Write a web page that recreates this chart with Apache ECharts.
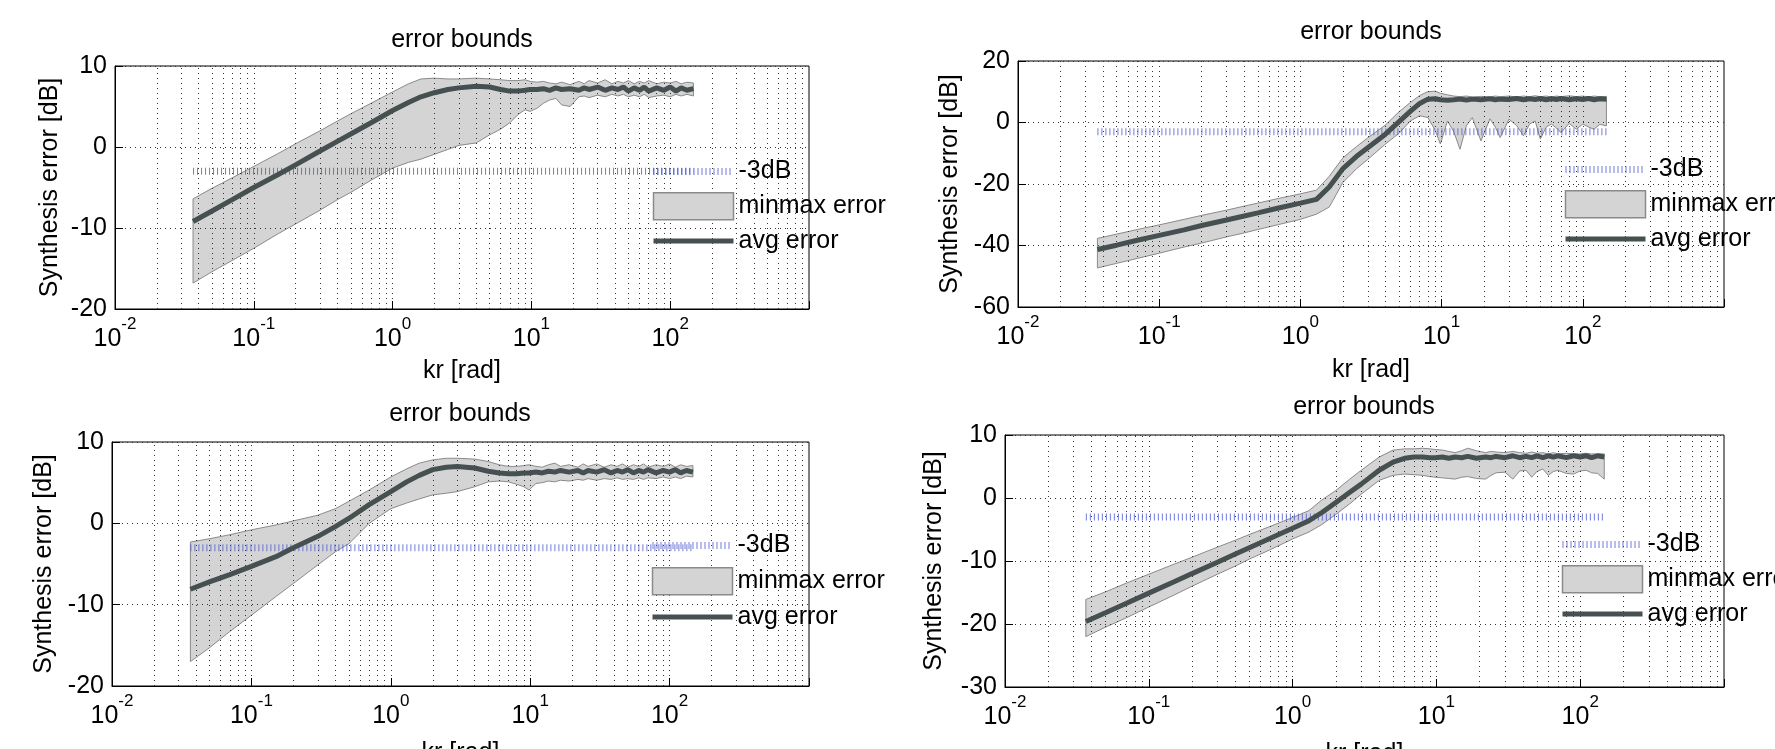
<!DOCTYPE html>
<html>
<head>
<meta charset="utf-8">
<title>error bounds</title>
<script src="https://cdn.jsdelivr.net/npm/echarts@6/dist/echarts.min.js"></script>
<style>
  html, body { margin: 0; padding: 0; background: #fff; }
  #chart { width: 1775px; height: 749px; }
</style>
</head>
<body>
<div id="chart"></div>
<script>
// kr sample points, shared by the four panels
const krRad = [0.0365, 0.05, 0.07, 0.1, 0.15, 0.2, 0.3, 0.4, 0.5, 0.7, 1, 1.3, 1.6, 2, 2.5, 3, 4, 5, 6, 7, 8, 9, 9.8, 11, 12.2, 13.5, 15, 16.5, 19, 22, 24, 26, 30, 34, 38, 42, 46, 50, 55, 60, 65, 70, 80, 90, 100, 110, 120, 132, 147]

// panel A (top left)
const avgA = [-9.2, -7.9, -6.5, -5.0, -3.4, -2.2, -0.5, 0.7, 1.6, 3.0, 4.5, 5.5, 6.2, 6.7, 7.1, 7.3, 7.5, 7.4, 7.1, 6.9, 6.9, 7.0, 7.1, 7.1, 7.2, 7.0, 7.3, 7.1, 7.2, 7.0, 7.3, 7.1, 7.4, 7.0, 7.3, 7.1, 7.4, 6.9, 7.3, 7.0, 7.4, 6.9, 7.3, 7.0, 7.4, 6.9, 7.3, 7.0, 7.2]
const maxA = [-6.4, -5.1, -3.8, -2.4, -0.8, 0.4, 2.0, 3.2, 4.1, 5.4, 6.8, 7.8, 8.4, 8.5, 8.4, 8.4, 8.5, 8.4, 8.3, 8.2, 8.2, 8.3, 8.1, 8.0, 8.1, 7.9, 7.8, 8.0, 7.7, 8.1, 7.8, 8.2, 7.9, 8.3, 7.8, 8.1, 7.9, 8.2, 7.8, 8.1, 7.9, 8.2, 7.8, 8.0, 7.9, 8.1, 7.8, 8.0, 7.9]
const minA = [-16.8, -15.4, -14.0, -12.5, -10.7, -9.5, -7.8, -6.5, -5.6, -4.1, -2.6, -1.9, -1.5, -0.9, -0.3, 0.2, 0.5, 1.5, 2.2, 3.0, 4.0, 4.6, 4.4, 4.8, 5.4, 5.8, 6.0, 5.2, 5.0, 6.2, 6.3, 6.1, 6.4, 6.2, 6.5, 6.3, 6.5, 6.2, 6.4, 6.2, 6.5, 6.1, 6.3, 6.4, 6.2, 6.5, 6.3, 6.5, 6.3]

// panel B (top right)
const avgB = [-41.3, -39.9, -38.3, -36.7, -34.9, -33.5, -31.7, -30.4, -29.4, -27.8, -26.2, -25.0, -21.0, -15.0, -11.0, -8.2, -3.8, 0.3, 3.6, 6.2, 7.6, 7.7, 7.4, 7.2, 7.4, 7.6, 7.3, 7.6, 7.4, 7.7, 7.4, 7.6, 7.5, 7.8, 7.4, 7.7, 7.5, 7.8, 7.4, 7.7, 7.5, 7.8, 7.4, 7.7, 7.5, 7.8, 7.4, 7.7, 7.6]
const maxB = [-37.7, -36.3, -34.8, -33.3, -31.5, -30.2, -28.5, -27.2, -26.2, -24.7, -23.2, -22.0, -17.5, -11.5, -7.8, -5.0, -0.8, 3.5, 6.5, 8.8, 10.0, 10.2, 9.5, 9.0, 8.6, 8.4, 8.6, 8.3, 8.5, 8.3, 8.6, 8.4, 8.6, 8.3, 8.6, 8.4, 8.7, 8.4, 8.6, 8.3, 8.6, 8.4, 8.7, 8.4, 8.6, 8.3, 8.6, 8.4, 8.5]
const minB = [-47.3, -45.8, -44.2, -42.5, -40.5, -39.2, -37.2, -35.9, -34.8, -33.2, -31.5, -29.8, -27.5, -19.5, -15.0, -12.0, -7.0, -3.5, 0.5, 2.2, 1.6, -2.5, -7.0, 0.5, -3.0, -8.7, -1.0, 1.6, -6.0, 1.2, -1.5, -4.9, 1.1, -1.0, -4.3, -0.5, 0.5, -5.4, -1.5, -0.5, -1.8, -3.3, -0.3, -2.2, -0.5, -1.5, -2.2, -0.6, -1.1]

// panel C (bottom left)
const avgC = [-8.1, -7.2, -6.3, -5.3, -4.1, -3.0, -1.6, -0.4, 0.6, 2.3, 3.9, 5.1, 5.9, 6.6, 6.9, 7.0, 6.8, 6.4, 6.2, 6.1, 6.1, 6.2, 6.2, 6.3, 6.2, 6.4, 6.3, 6.5, 6.3, 6.5, 6.2, 6.5, 6.3, 6.6, 6.2, 6.5, 6.3, 6.6, 6.2, 6.5, 6.3, 6.6, 6.2, 6.5, 6.3, 6.6, 6.2, 6.5, 6.3]
const maxC = [-2.3, -1.9, -1.4, -0.8, -0.2, 0.3, 1.0, 1.8, 2.7, 4.1, 5.7, 6.7, 7.4, 7.8, 8.0, 8.0, 7.9, 7.6, 7.2, 7.0, 7.0, 7.1, 7.2, 7.0, 6.9, 7.2, 7.4, 7.0, 7.2, 6.9, 7.3, 7.0, 7.3, 6.9, 7.2, 7.0, 7.3, 6.9, 7.2, 7.0, 7.3, 6.9, 7.2, 7.0, 7.3, 6.9, 7.2, 7.0, 7.1]
const minC = [-17.0, -15.3, -13.3, -11.3, -9.0, -7.4, -5.1, -3.5, -2.5, 0.0, 1.8, 2.5, 3.0, 3.5, 3.7, 3.9, 4.5, 5.1, 5.2, 5.1, 4.8, 4.5, 4.1, 4.9, 5.0, 5.2, 5.1, 5.3, 5.2, 5.4, 5.3, 5.5, 5.3, 5.5, 5.4, 5.6, 5.4, 5.5, 5.4, 5.6, 5.4, 5.6, 5.5, 5.7, 5.5, 5.7, 5.5, 5.8, 5.7]

// panel D (bottom right)
const avgD = [-19.6, -18.2, -16.7, -15.1, -13.3, -12.0, -10.2, -8.9, -7.9, -6.4, -4.8, -3.6, -2.3, -0.7, 0.9, 2.2, 4.4, 5.7, 6.3, 6.5, 6.5, 6.4, 6.4, 6.5, 6.3, 6.5, 6.4, 6.6, 6.3, 6.5, 6.4, 6.6, 6.4, 6.7, 6.4, 6.6, 6.4, 6.7, 6.4, 6.7, 6.5, 6.7, 6.4, 6.7, 6.5, 6.7, 6.4, 6.7, 6.5]
const maxD = [-16.1, -14.9, -13.5, -12.1, -10.5, -9.4, -7.8, -6.7, -5.8, -4.5, -3.1, -2.0, -0.3, 1.2, 3.0, 4.4, 6.5, 7.6, 7.8, 7.8, 7.9, 7.8, 7.7, 7.6, 7.4, 7.2, 7.5, 7.9, 7.5, 7.2, 7.4, 7.3, 7.2, 7.4, 7.2, 7.1, 7.3, 7.1, 7.2, 7.0, 7.2, 7.0, 7.1, 7.0, 7.0, 7.1, 7.0, 7.0, 7.0]
const minD = [-22.0, -20.5, -19.0, -17.3, -15.4, -14.0, -12.1, -10.8, -9.7, -8.2, -6.5, -5.4, -4.2, -2.6, -0.9, 0.6, 2.8, 3.6, 3.8, 3.7, 3.6, 3.4, 3.3, 3.2, 3.1, 3.0, 3.3, 3.4, 3.1, 3.0, 3.6, 4.0, 4.1, 3.0, 4.3, 4.4, 3.3, 4.2, 4.6, 3.6, 4.2, 4.4, 3.9, 3.8, 4.3, 4.4, 4.0, 3.9, 3.0]

// ticks
const xDecades = [-2, -1, 0, 1, 2, 3]
const yTicksA = [-20, -10, 0, 10]
const yTicksB = [-60, -40, -20, 0, 20]
const yTicksC = [-20, -10, 0, 10]
const yTicksD = [-30, -20, -10, 0, 10]
const thresholdDb = -3

const font = 'Liberation Sans, Arial, Helvetica, sans-serif'
const bandColor = '#d4d4d4'
const edgeColor = '#8a8a8a'
const avgColor = '#465050'
const dbColor = 'rgba(80,90,210,0.8)'

// layout of the four panels
const panels = [
  { avg: avgA, lo: minA, hi: maxA, yTicks: yTicksA, grid: { left: 115, top: 66, width: 694, height: 243 },
    title: [462, 40], legend: { left: 650, top: 159, itemGap: 8 }, yGap: 52, xGap: 50 },
  { avg: avgB, lo: minB, hi: maxB, yTicks: yTicksB, grid: { left: 1018, top: 61, width: 706, height: 246 },
    title: [1371, 32], legend: { left: 1562, top: 157, itemGap: 8 }, yGap: 55, xGap: 51 },
  { avg: avgC, lo: minC, hi: maxC, yTicks: yTicksC, grid: { left: 112, top: 442, width: 697, height: 244 },
    title: [460, 414], legend: { left: 649, top: 533, itemGap: 9 }, yGap: 55, xGap: 55 },
  { avg: avgD, lo: minD, hi: maxD, yTicks: yTicksD, grid: { left: 1005, top: 435, width: 719, height: 252 },
    title: [1364, 407], legend: { left: 1559, top: 532, itemGap: 8 }, yGap: 58, xGap: 55 }
]

// dotted grid: every 1..9 x 10^n
const xGridValues = []
xDecades.slice(0, -1).forEach(d => {
  for (let k = 1; k <= 9; k++) xGridValues.push(+(k * Math.pow(10, d)).toPrecision(3))
})

const grids = []
const xAxes = []
const yAxes = []
const series = []
const legends = []
const titles = []

panels.forEach((p, i) => {
  grids.push(Object.assign({
    show: true, borderColor: '#000', borderWidth: 1, backgroundColor: '#fff',
    outerBoundsMode: 'none', containLabel: false
  }, p.grid))

  xAxes.push({
    type: 'log',
    logBase: 10,
    min: 0.01,
    max: 1000,
    gridIndex: i,
    z: 5,
    name: 'kr [rad]',
    nameLocation: 'middle',
    nameGap: p.xGap,
    nameTextStyle: { fontSize: 25, color: '#000', fontFamily: font },
    axisLine: { show: true, onZero: false, lineStyle: { color: '#000', width: 1 } },
    axisTick: { show: true, inside: true, length: 8, lineStyle: { color: '#000' } },
    splitLine: { show: false },
    axisLabel: {
      margin: 7,
      formatter: v => {
        const e = Math.round(Math.log10(v))
        return e === 3 ? '' : '{b|10}{e|' + e + '}'
      },
      rich: {
        b: { fontSize: 25, lineHeight: 36, verticalAlign: 'bottom', color: '#000', fontFamily: font },
        e: { fontSize: 17, lineHeight: 18, verticalAlign: 'top', color: '#000', fontFamily: font }
      }
    }
  })

  yAxes.push({
    type: 'value',
    gridIndex: i,
    z: 5,
    min: p.yTicks[0],
    max: p.yTicks[p.yTicks.length - 1],
    interval: p.yTicks[1] - p.yTicks[0],
    name: 'Synthesis error [dB]',
    nameLocation: 'middle',
    nameRotate: 90,
    nameGap: p.yGap,
    nameTextStyle: { fontSize: 25, color: '#000', fontFamily: font },
    axisLine: { show: true, onZero: false, lineStyle: { color: '#000', width: 1 } },
    axisTick: { show: true, inside: true, length: 8, lineStyle: { color: '#000' } },
    splitLine: { show: false },
    axisLabel: { fontSize: 25, color: '#000', margin: 8, fontFamily: font }
  })

  // min..max band as one polygon through the axes
  series.push({
    name: 'minmax error',
    type: 'custom',
    xAxisIndex: i,
    yAxisIndex: i,
    z: 1,
    data: krRad.map((x, j) => [x, p.lo[j], p.hi[j]]),
    encode: { x: 0, y: [1, 2] },
    itemStyle: { color: bandColor },
    renderItem: (params, api) => {
      if (params.dataIndex !== 0) return null
      const upper = krRad.map((x, j) => api.coord([x, p.hi[j]]))
      const lower = krRad.map((x, j) => api.coord([x, p.lo[j]])).reverse()
      return {
        type: 'polygon',
        shape: { points: upper.concat(lower) },
        style: { fill: bandColor, stroke: edgeColor, lineWidth: 1 }
      }
    }
  })

  series.push({
    name: '-3dB',
    type: 'line',
    xAxisIndex: i,
    yAxisIndex: i,
    symbol: 'none',
    z: 3,
    data: [[krRad[0], thresholdDb], [krRad[krRad.length - 1], thresholdDb]],
    lineStyle: { color: dbColor, width: 7, type: [1, 3] },
    itemStyle: { color: dbColor },
    // dotted grid
    markLine: {
      silent: true,
      symbol: 'none',
      z: 2,
      label: { show: false },
      lineStyle: { color: '#333', width: 1, type: [1, 4] },
      data: xGridValues.map(v => ({ xAxis: v })).concat(p.yTicks.map(v => ({ yAxis: v })))
    }
  })

  series.push({
    name: 'avg error',
    type: 'line',
    xAxisIndex: i,
    yAxisIndex: i,
    symbol: 'none',
    z: 4,
    data: krRad.map((x, j) => [x, p.avg[j]]),
    lineStyle: { color: avgColor, width: 5 },
    itemStyle: { color: avgColor }
  })

  legends.push({
    orient: 'vertical',
    left: p.legend.left,
    top: p.legend.top,
    itemGap: p.legend.itemGap,
    itemWidth: 80,
    itemHeight: 27,
    padding: 0,
    selectedMode: false,
    textStyle: { fontSize: 25, color: '#000', fontFamily: font },
    data: [
      { name: '-3dB', itemStyle: { opacity: 0 }, lineStyle: { width: 7, type: [1, 3], color: dbColor } },
      { name: 'minmax error', icon: 'rect', itemStyle: { color: bandColor, borderColor: edgeColor, borderWidth: 1.5 } },
      { name: 'avg error', itemStyle: { opacity: 0 }, lineStyle: { width: 5, type: 'solid', color: avgColor } }
    ]
  })

  titles.push({
    type: 'text',
    x: p.title[0],
    y: p.title[1],
    style: { text: 'error bounds', fontSize: 25, fontFamily: font, fill: '#000', align: 'center', verticalAlign: 'middle' }
  })
})

const chart = echarts.init(document.getElementById('chart'))
chart.setOption({
  animation: false,
  backgroundColor: '#fff',
  textStyle: { fontFamily: font },
  grid: grids,
  xAxis: xAxes,
  yAxis: yAxes,
  legend: legends,
  graphic: titles,
  series: series
})
</script>
</body>
</html>
